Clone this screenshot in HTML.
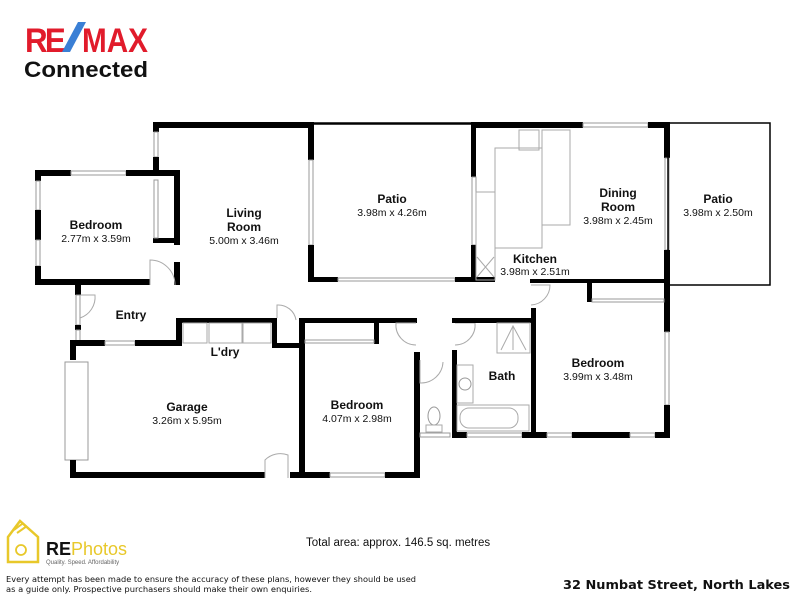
<!DOCTYPE html>
<html><head><meta charset="utf-8"><style>
html,body{margin:0;padding:0;background:#fff;}
svg{display:block;font-family:"Liberation Sans",Arial,sans-serif;}
.w{fill:#000}
.win{fill:#fff;stroke:#999;stroke-width:1}
.t{stroke:#000;stroke-width:1.5;fill:none}
.f{fill:none;stroke:#aaa;stroke-width:1}
.n{font-weight:bold;font-size:12px;text-anchor:middle;fill:#111}
.d{font-size:10.5px;text-anchor:middle;fill:#111}
</style></head><body>
<svg width="800" height="600" viewBox="0 0 800 600">
<!-- Logo -->
<text x="25" y="52" font-size="34" font-weight="bold" fill="#e11b2b" letter-spacing="-3" textLength="38" lengthAdjust="spacingAndGlyphs">RE</text>
<polygon points="62,52 70,52 86,22 78,22" fill="#3a7fd5"/>
<text x="82" y="52" font-size="34" font-weight="bold" fill="#e11b2b" textLength="66" lengthAdjust="spacingAndGlyphs">MAX</text>
<text x="24" y="77" font-size="22" font-weight="bold" fill="#111" textLength="124" lengthAdjust="spacingAndGlyphs">Connected</text>

<!-- Walls -->
<rect class="w" x="153" y="122" width="160" height="6"/>
<rect class="w" x="153" y="122" width="6" height="10"/>
<rect class="win" x="154" y="132" width="4" height="25"/>
<rect class="w" x="153" y="157" width="6" height="19"/>
<rect class="w" x="35" y="170" width="36" height="6"/>
<rect class="win" x="71" y="171" width="55" height="4"/>
<rect class="w" x="126" y="170" width="54" height="6"/>
<rect class="w" x="35" y="170" width="6" height="11"/>
<rect class="win" x="36" y="181" width="4" height="29"/>
<rect class="w" x="35" y="210" width="6" height="30"/>
<rect class="win" x="36" y="240" width="4" height="26"/>
<rect class="w" x="35" y="266" width="6" height="19"/>
<rect class="w" x="35" y="279" width="115" height="6"/>
<rect class="w" x="174" y="170" width="6" height="75"/>
<rect class="w" x="174" y="262" width="6" height="23"/>
<rect class="w" x="153" y="238" width="27" height="5"/>
<rect class="win" x="154" y="180" width="4" height="58"/>
<path class="f" d="M150,285 L150,260 A25,25 0 0 1 175,285"/>
<rect class="w" x="75" y="285" width="6" height="10"/>
<rect class="win" x="76" y="295" width="4" height="30"/>
<rect class="w" x="75" y="325" width="6" height="5"/>
<rect class="win" x="76" y="330" width="4" height="14"/>
<path class="f" d="M80,295 L95,295 A22,22 0 0 1 80,318"/>
<rect class="w" x="70" y="340" width="35" height="6"/>
<rect class="win" x="105" y="341" width="30" height="4"/>
<rect class="w" x="135" y="340" width="46" height="6"/>
<rect class="w" x="70" y="340" width="6" height="20"/>
<rect class="win" x="65" y="362" width="23" height="98"/>
<rect class="w" x="70" y="460" width="6" height="18"/>
<rect class="w" x="70" y="472" width="195" height="6"/>
<path class="f" d="M265,478 L265,460 A22,22 0 0 1 288,455 L288,478"/>
<rect class="w" x="290" y="472" width="40" height="6"/>
<rect class="win" x="330" y="473" width="55" height="4"/>
<rect class="w" x="385" y="472" width="35" height="6"/>
<rect class="w" x="176" y="318" width="6" height="28"/>
<rect class="w" x="176" y="318" width="100" height="5"/>
<rect class="w" x="272" y="318" width="5" height="30"/>
<rect class="w" x="272" y="343" width="32" height="5"/>
<rect class="f" x="183" y="323" width="24" height="20"/>
<rect class="f" x="209" y="323" width="33" height="20"/>
<rect class="f" x="243" y="323" width="28" height="20"/>
<path class="f" d="M277,318 L277,305 A18,18 0 0 1 296,320"/>
<rect class="w" x="299" y="318" width="6" height="160"/>
<rect class="w" x="299" y="318" width="118" height="5"/>
<rect class="w" x="374" y="318" width="5" height="26"/>
<rect class="win" x="305" y="340" width="69" height="3"/>
<rect class="w" x="414" y="352" width="6" height="126"/>
<path class="f" d="M416,323 L396,323 A20,20 0 0 0 416,345"/>
<path class="f" d="M455,323 L475,323 A20,20 0 0 1 455,345"/>
<path class="f" d="M420,360 L420,383 A22,22 0 0 0 443,362"/>
<rect class="win" x="420" y="433" width="30" height="4"/>
<ellipse cx="434" cy="416" rx="6" ry="9" fill="none" stroke="#999"/>
<rect class="f" x="426" y="425" width="16" height="7"/>
<rect class="w" x="452" y="318" width="84" height="5"/>
<rect class="w" x="452" y="350" width="5" height="88"/>
<rect class="w" x="531" y="308" width="5" height="130"/>
<rect class="w" x="452" y="432" width="15" height="6"/>
<rect class="win" x="467" y="433" width="55" height="4"/>
<rect class="w" x="522" y="432" width="25" height="6"/>
<rect class="f" x="497" y="323" width="33" height="30"/>
<path class="f" d="M501,350 L513,326 L526,350 M513,326 L513,350"/>
<rect class="f" x="457" y="365" width="16" height="38"/>
<circle cx="465" cy="384" r="6" fill="none" stroke="#999"/>
<rect class="f" x="457" y="405" width="72" height="26"/>
<rect class="f" x="460" y="408" width="58" height="20" rx="9"/>
<rect class="win" x="547" y="433" width="25" height="4"/>
<rect class="w" x="572" y="432" width="58" height="6"/>
<rect class="win" x="630" y="433" width="25" height="4"/>
<rect class="w" x="655" y="432" width="15" height="6"/>
<rect class="w" x="664" y="282" width="6" height="50"/>
<rect class="win" x="665" y="332" width="4" height="73"/>
<rect class="w" x="664" y="405" width="6" height="33"/>
<rect class="w" x="587" y="282" width="5" height="20"/>
<rect class="win" x="592" y="299" width="72" height="3"/>
<path class="f" d="M531,285 L550,285 A20,20 0 0 1 531,305"/>
<rect class="t" x="311" y="123" width="162" height="1"/>
<rect class="w" x="308" y="122" width="6" height="38"/>
<rect class="win" x="309" y="160" width="4" height="85"/>
<rect class="w" x="308" y="245" width="6" height="37"/>
<rect class="w" x="308" y="277" width="30" height="5"/>
<rect class="win" x="338" y="278" width="117" height="3"/>
<rect class="w" x="455" y="277" width="40" height="5"/>
<rect class="w" x="471" y="122" width="5" height="55"/>
<rect class="win" x="472" y="177" width="4" height="68"/>
<rect class="w" x="471" y="245" width="5" height="37"/>
<rect class="w" x="471" y="122" width="112" height="6"/>
<rect class="win" x="583" y="123" width="65" height="4"/>
<rect class="w" x="648" y="122" width="20" height="6"/>
<rect class="w" x="664" y="122" width="6" height="36"/>
<rect class="win" x="665" y="158" width="4" height="92"/>
<rect class="w" x="664" y="250" width="6" height="32"/>
<rect class="w" x="530" y="279" width="140" height="4"/>
<rect class="f" x="519" y="130" width="20" height="20"/>
<rect class="f" x="495" y="148" width="47" height="100"/>
<rect class="f" x="542" y="130" width="28" height="95"/>
<rect class="f" x="476" y="192" width="19" height="88"/>
<path class="f" d="M477,257 L494,277 M494,257 L477,277"/>
<rect x="668" y="123" width="102" height="162" fill="none" stroke="#000" stroke-width="1.5"/>

<!-- Labels -->
<text class="n" x="96" y="229">Bedroom</text><text class="d" x="96" y="242">2.77m x 3.59m</text>
<text class="n" x="244" y="217">Living</text><text class="n" x="244" y="231">Room</text><text class="d" x="244" y="244">5.00m x 3.46m</text>
<text class="n" x="392" y="203">Patio</text><text class="d" x="392" y="216">3.98m x 4.26m</text>
<text class="n" x="618" y="197">Dining</text><text class="n" x="618" y="211">Room</text><text class="d" x="618" y="224">3.98m x 2.45m</text>
<text class="n" x="718" y="203">Patio</text><text class="d" x="718" y="216">3.98m x 2.50m</text>
<text class="n" x="535" y="263">Kitchen</text><text class="d" x="535" y="275">3.98m x 2.51m</text>
<text class="n" x="131" y="319">Entry</text>
<text class="n" x="225" y="356">L'dry</text>
<text class="n" x="187" y="411">Garage</text><text class="d" x="187" y="424">3.26m x 5.95m</text>
<text class="n" x="357" y="409">Bedroom</text><text class="d" x="357" y="422">4.07m x 2.98m</text>
<text class="n" x="502" y="380">Bath</text>
<text class="n" x="598" y="367">Bedroom</text><text class="d" x="598" y="380">3.99m x 3.48m</text>

<text x="306" y="546" font-size="11.5" fill="#111">Total area: approx. 146.5 sq. metres</text>

<path d="M8,537 L20,521 L38,537 L38,562 L8,562 Z" fill="none" stroke="#e8c82a" stroke-width="2.5"/>
<path d="M14,530 L22,524 M17,533 L27,526" stroke="#e8c82a" stroke-width="2"/>
<circle cx="21" cy="550" r="5" fill="none" stroke="#e8c82a" stroke-width="1.8"/>
<text x="46" y="555" font-size="18" font-weight="bold" fill="#111">RE<tspan fill="#e8c82a" font-weight="normal">Photos</tspan></text>
<text x="46" y="564" font-size="6" fill="#666">Quality. Speed. Affordability</text>

<text x="6" y="582" font-family="DejaVu Sans,sans-serif" font-size="8" fill="#111" textLength="410" lengthAdjust="spacingAndGlyphs">Every attempt has been made to ensure the accuracy of these plans, however they should be used</text>
<text x="6" y="592" font-family="DejaVu Sans,sans-serif" font-size="8" fill="#111" textLength="306" lengthAdjust="spacingAndGlyphs">as a guide only.  Prospective purchasers should make their own enquiries.</text>
<text x="563" y="589" font-family="DejaVu Sans,sans-serif" font-size="12.5" font-weight="bold" fill="#111" textLength="227" lengthAdjust="spacingAndGlyphs">32 Numbat Street, North Lakes</text>
</svg>
</body></html>
